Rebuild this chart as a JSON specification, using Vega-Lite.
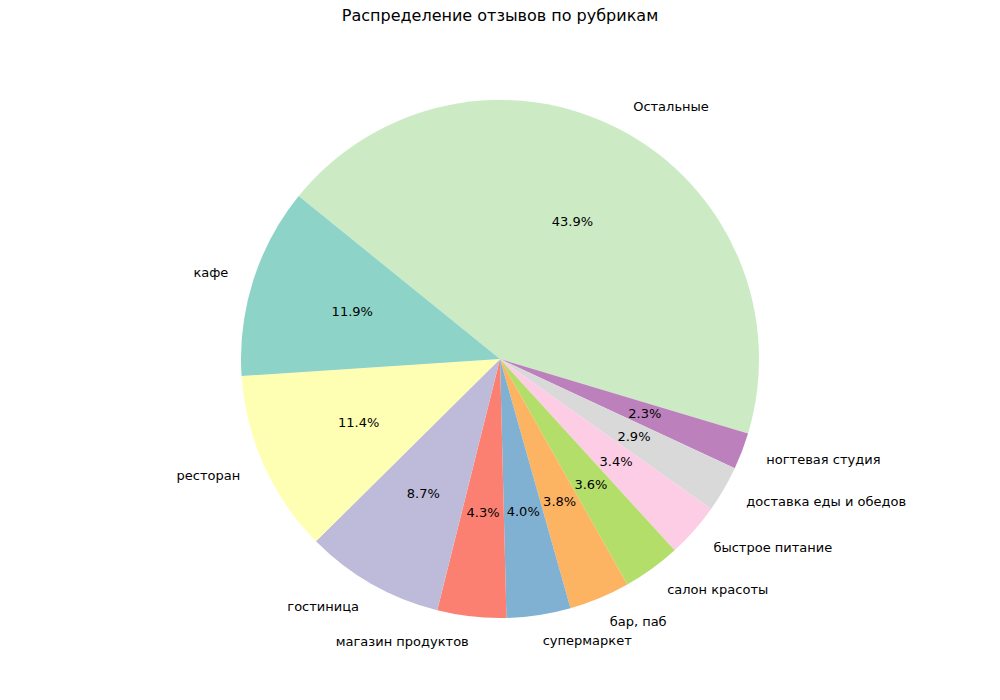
{
  "$schema": "https://vega.github.io/schema/vega-lite/v6.json",
  "width": 1000,
  "height": 700,
  "autosize": {"type": "fit", "contains": "padding"},
  "padding": {"top": 8, "left": 0, "right": 0, "bottom": 14},
  "background": "white",
  "title": {"text": "Распределение отзывов по рубрикам", "font": "DejaVu Sans", "fontSize": 16, "fontWeight": "normal", "color": "black", "offset": 8},
  "data": {
    "values": [
      {"i": 0, "category": "Остальные", "value": 43.9},
      {"i": 1, "category": "ногтевая студия", "value": 2.3},
      {"i": 2, "category": "доставка еды и обедов", "value": 2.9},
      {"i": 3, "category": "быстрое питание", "value": 3.4},
      {"i": 4, "category": "салон красоты", "value": 3.6},
      {"i": 5, "category": "бар, паб", "value": 3.8},
      {"i": 6, "category": "супермаркет", "value": 4.0},
      {"i": 7, "category": "магазин продуктов", "value": 4.3},
      {"i": 8, "category": "гостиница", "value": 8.7},
      {"i": 9, "category": "ресторан", "value": 11.4},
      {"i": 10, "category": "кафе", "value": 11.9}
    ]
  },
  "transform": [
    {"stack": "value", "groupby": [], "sort": [{"field": "i", "order": "ascending"}], "as": ["v0", "v1"]},
    {"calculate": "(datum.v0 + datum.v1) / 2", "as": "mid"},
    {"calculate": "format(datum.value, '.1f') + '%'", "as": "pct"}
  ],
  "encoding": {
    "color": {
      "field": "category", "type": "nominal", "legend": null,
      "scale": {
        "domain": ["кафе", "ресторан", "гостиница", "магазин продуктов", "супермаркет", "бар, паб", "салон красоты", "быстрое питание", "доставка еды и обедов", "ногтевая студия", "Остальные"],
        "range": ["#8dd3c7", "#ffffb3", "#bebada", "#fb8072", "#80b1d3", "#fdb462", "#b3de69", "#fccde5", "#d9d9d9", "#bc80bd", "#ccebc5"]
      }
    }
  },
  "layer": [
    {"mark": {"type": "arc", "outerRadius": 259},
     "encoding": {
       "theta": {"field": "v0", "type": "quantitative", "scale": {"domain": [0, 100.2], "range": [5.393, 11.676]}},
       "theta2": {"field": "v1"}
     }},
    {"mark": {"type": "text", "radius": 155, "font": "DejaVu Sans", "fontSize": 13},
     "encoding": {"theta": {"field": "mid", "type": "quantitative", "scale": {"domain": [0, 100.2], "range": [5.393, 11.676]}}, "text": {"field": "pct"}, "color": {"value": "black"}}},
    {"transform": [{"filter": {"field": "category", "oneOf": ["кафе", "ресторан", "гостиница", "магазин продуктов"]}}],
     "mark": {"type": "text", "radius": 285, "align": "right", "font": "DejaVu Sans", "fontSize": 13},
     "encoding": {"theta": {"field": "mid", "type": "quantitative", "scale": {"domain": [0, 100.2], "range": [5.393, 11.676]}}, "text": {"field": "category"}, "color": {"value": "black"}}},
    {"transform": [{"filter": {"not": {"field": "category", "oneOf": ["кафе", "ресторан", "гостиница", "магазин продуктов"]}}}],
     "mark": {"type": "text", "radius": 285, "align": "left", "font": "DejaVu Sans", "fontSize": 13},
     "encoding": {"theta": {"field": "mid", "type": "quantitative", "scale": {"domain": [0, 100.2], "range": [5.393, 11.676]}}, "text": {"field": "category"}, "color": {"value": "black"}}}
  ],
  "config": {"view": {"stroke": null}}
}
